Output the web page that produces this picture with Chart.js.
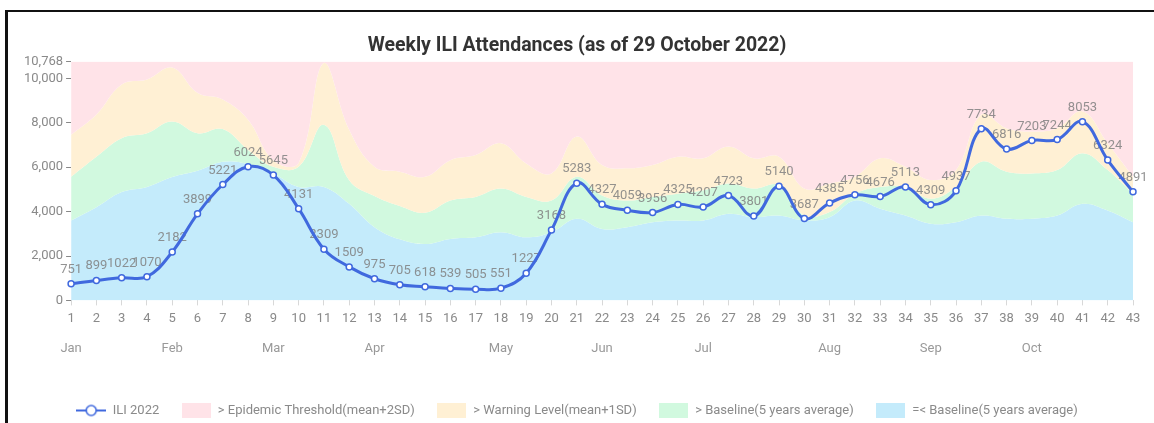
<!DOCTYPE html>
<html>
<head>
<meta charset="utf-8">
<script src="https://cdn.jsdelivr.net/npm/chart.js@4.4.0/dist/chart.umd.min.js"></script>
<style>
  html, body { margin: 0; padding: 0; background: #fff; overflow: hidden; }
  #frame { position: absolute; left: 5px; top: 10px; width: 1160px; height: 430px; border-top: 2px solid #111; border-left: 3px solid #111; }
  #wrap { position: absolute; left: 0; top: 0; width: 1154px; height: 427px; }
</style>
</head>
<body>
<div id="frame"></div>
<div id="wrap"><canvas id="myChart"></canvas></div>
<script>
// week numbers on the x axis
var weeks = ['1','2','3','4','5','6','7','8','9','10','11','12','13','14','15','16','17','18','19','20','21','22',
             '23','24','25','26','27','28','29','30','31','32','33','34','35','36','37','38','39','40','41','42','43'];

// month names and the week each one is printed under
var monthNames = ['Jan','Feb','Mar','Apr','May','Jun','Jul','Aug','Sep','Oct'];
var monthWeek  = [1, 5, 9, 13, 18, 22, 26, 31, 35, 39];

var yTicks = [0, 2000, 4000, 6000, 8000, 10000, 10768];

var ili2022 =
  [751, 899, 1022, 1070, 2182, 3899, 5221, 6024, 5645, 4131,
   2309, 1509, 975, 705, 618, 539, 505, 551, 1227, 3168,
   5283, 4327, 4059, 3956, 4325, 4207, 4723, 3801, 5140, 3687,
   4385, 4756, 4676, 5113, 4309, 4937, 7734, 6816, 7203, 7244,
   8053, 6324, 4891];

// 5 years average
var baseline =
  [3600, 4200, 4880, 5110, 5560, 5840, 6250, 6150, 5720, 5110,
   5110, 4350, 3300, 2750, 2540, 2770, 2840, 3070, 2840, 3070,
   3680, 3220, 3300, 3520, 3600, 3600, 3900, 3750, 3820, 3600,
   3750, 4500, 4130, 3820, 3450, 3520, 3820, 3680, 3680, 3820,
   4350, 4050, 3520];

// mean + 1SD
var warningLevel =
  [5570, 6470, 7310, 7530, 8060, 7530, 7720, 6780, 6020, 6020,
   7910, 5415, 4700, 4250, 3950, 4500, 4660, 5040, 4660, 4500,
   5570, 4730, 4500, 4660, 4810, 4960, 5270, 5040, 5190, 3830,
   3980, 4810, 5110, 5110, 4580, 5110, 6250, 5800, 5720, 5870,
   6630, 5870, 4810];

// mean + 2SD
var epidemicThreshold =
  [7460, 8370, 9730, 9950, 10490, 9350, 9050, 8140, 6320, 6190,
   10710, 7690, 6020, 5800, 5570, 6320, 6550, 7080, 6170, 5720,
   7380, 6100, 5950, 6100, 6470, 6400, 6930, 6400, 6470, 5040,
   5270, 5570, 6400, 6020, 5420, 5870, 8370, 7760, 7610, 7760,
   8520, 7080, 5570];

var yMax = 10768;

var lineBlue = '#4069de';
var pink   = 'rgb(255,227,232)';
var orange = 'rgb(255,240,212)';
var green  = 'rgb(209,249,223)';
var blue   = 'rgb(196,235,251)';

var monthRow = weeks.map(function (w) {
  var k = monthWeek.indexOf(Number(w));
  return k >= 0 ? monthNames[k] : '';
});

Chart.defaults.font.family = 'Roboto, "Noto Sans", sans-serif';

// legend icons
function boxIcon(color) {
  var c = document.createElement('canvas');
  c.width = 29; c.height = 15;
  var g = c.getContext('2d');
  g.fillStyle = color;
  g.fillRect(0, 0, 29, 15);
  return c;
}
function lineIcon() {
  var c = document.createElement('canvas');
  c.width = 30; c.height = 14;
  var g = c.getContext('2d');
  g.strokeStyle = lineBlue;
  g.lineWidth = 2;
  g.beginPath(); g.moveTo(0, 7); g.lineTo(30, 7); g.stroke();
  g.fillStyle = '#fff';
  g.lineWidth = 1.6;
  g.beginPath(); g.arc(15, 7, 5, 0, Math.PI * 2); g.fill(); g.stroke();
  return c;
}
var legendIcons = [lineIcon(), boxIcon(pink), boxIcon(orange), boxIcon(green), boxIcon(blue)];

// value labels above the ILI points, drawn under the line
var pointLabels = {
  id: 'pointLabels',
  beforeDatasetDraw: function (chart, args) {
    if (args.index !== 0) return;
    var ctx = chart.ctx;
    ctx.save();
    ctx.font = '13px Roboto, "Noto Sans", sans-serif';
    ctx.fillStyle = 'rgba(128,128,128,0.85)';
    ctx.textAlign = 'center';
    ctx.textBaseline = 'alphabetic';
    args.meta.data.forEach(function (pt, i) {
      ctx.fillText(String(ili2022[i]), pt.x, pt.y - 11);
    });
    ctx.restore();
  }
};

var area = { borderWidth: 0, pointRadius: 0, pointHoverRadius: 0, tension: 0.4 };

new Chart('myChart', {
  type: 'line',
  data: {
    labels: weeks,
    datasets: [
      {
        label: 'ILI 2022',
        data: ili2022,
        borderColor: lineBlue,
        borderWidth: 3,
        backgroundColor: '#fff',
        pointBackgroundColor: '#fff',
        pointBorderColor: lineBlue,
        pointBorderWidth: 1.5,
        pointRadius: 3,
        tension: 0.4,
        fill: false
      },
      Object.assign({ label: '> Epidemic Threshold(mean+2SD)', data: epidemicThreshold, backgroundColor: pink, fill: 'end' }, area),
      Object.assign({ label: '> Warning Level(mean+1SD)', data: warningLevel, backgroundColor: orange, fill: '-1' }, area),
      Object.assign({ label: '> Baseline(5 years average)', data: baseline, backgroundColor: green, fill: '-1' }, area),
      Object.assign({ label: '=< Baseline(5 years average)', data: baseline, backgroundColor: blue, fill: 'origin' }, area)
    ]
  },
  options: {
    responsive: true,
    maintainAspectRatio: false,
    animation: false,
    layout: { padding: { left: 21, right: 21, top: 24, bottom: 0 } },
    scales: {
      x: {
        type: 'category',
        grid: { drawOnChartArea: false, tickLength: 5, color: '#d8d8d8' },
        border: { display: false },
        ticks: { color: '#8a8a8a', font: { size: 13 }, maxRotation: 0, autoSkip: false, padding: 6 }
      },
      xMonth: {
        type: 'category',
        labels: monthRow,
        position: 'bottom',
        weight: 1,
        grid: { display: false, drawTicks: false },
        border: { display: false },
        ticks: { color: '#999', font: { size: 13 }, maxRotation: 0, autoSkip: false, padding: 8 },
        afterFit: function (scale) { scale.height = 49; }
      },
      y: {
        min: 0,
        max: yMax,
        afterBuildTicks: function (scale) {
          scale.ticks = yTicks.map(function (v) { return { value: v }; });
        },
        grid: { drawOnChartArea: false, tickLength: 5, color: '#888' },
        border: { display: false },
        ticks: { color: '#8a8a8a', font: { size: 13 }, padding: 3 }
      }
    },
    plugins: {
      title: {
        display: true,
        text: 'Weekly ILI Attendances (as of 29 October 2022)',
        color: '#333',
        font: { size: 19.5, weight: 'bold' },
        padding: { top: 10, bottom: 4 }
      },
      legend: {
        position: 'bottom',
        labels: {
          usePointStyle: true,
          pointStyleWidth: 30,
          padding: 22,
          color: '#8a8a8a',
          font: { size: 13 },
          generateLabels: function (chart) {
            var items = Chart.defaults.plugins.legend.labels.generateLabels(chart);
            items.forEach(function (it, i) { it.pointStyle = legendIcons[i]; it.rotation = 0; });
            return items;
          }
        }
      },
      tooltip: { enabled: false }
    }
  },
  plugins: [pointLabels]
});
</script>
</body>
</html>
